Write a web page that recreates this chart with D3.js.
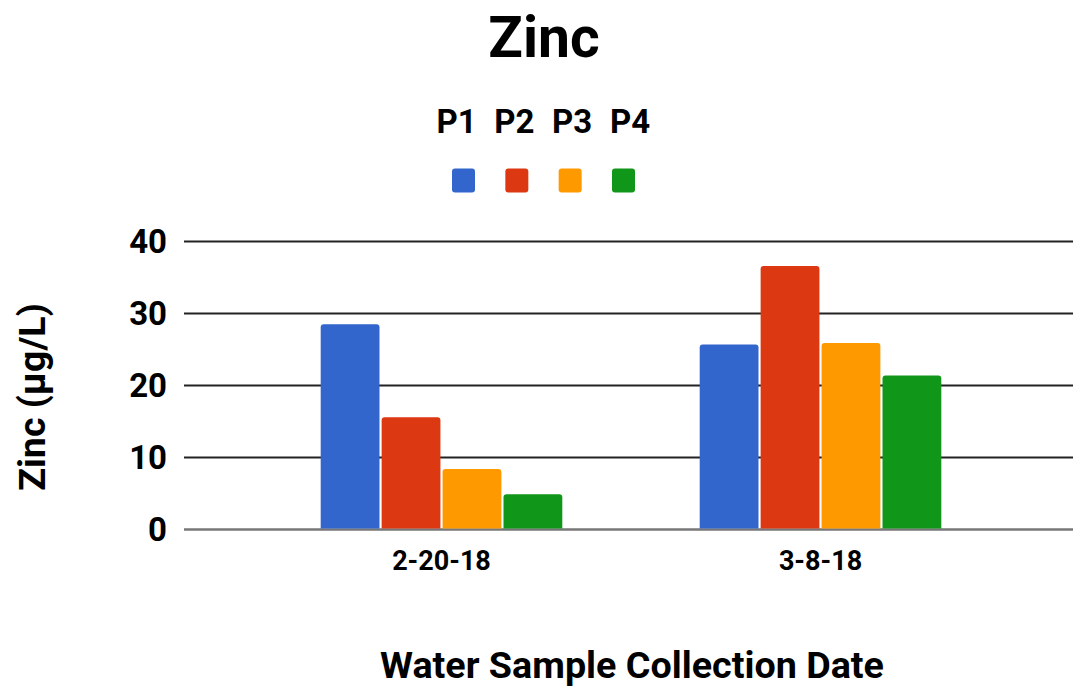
<!DOCTYPE html>
<meta charset="utf-8">
<style>
body { margin: 0; background: #fff; }
svg { display: block; font-family: Roboto, "Noto Sans", sans-serif; font-weight: bold; }
.grid line { stroke: #222; stroke-width: 2px; }
.grid .base { stroke: #777; stroke-width: 2.5px; }
</style>
<svg width="1073" height="692"></svg>
<script src="https://cdn.jsdelivr.net/npm/d3@7"></script>
<script>

var dates = ["2-20-18", "3-8-18"],
    sites = ["P1", "P2", "P3", "P4"],
    colors = ["#3366cc", "#dc3912", "#ff9900", "#109618"],
    yTicks = [0, 10, 20, 30, 40];

// zinc in µg/L, one array per sampling point, one value per date
var p1 = [28.5, 25.7],
    p2 = [15.6, 36.6],
    p3 = [8.4, 25.9],
    p4 = [4.9, 21.4];

var series = [p1, p2, p3, p4];

var svg = d3.select("svg"),
    gridLeft = 184,
    gridRight = 1073;

var x0 = d3.scaleBand()
    .domain(dates)
    .range([252, 1010])
    .paddingInner(0.3625)
    .paddingOuter(0.18125);

var x1 = d3.scaleBand()
    .domain(sites)
    .range([0, x0.bandwidth()])
    .paddingInner(0.035);

var y = d3.scaleLinear()
    .domain([0, 40])
    .range([529.5, 241.5]);

var color = d3.scaleOrdinal(sites, colors);

// title
svg.append("text")
    .attr("x", 544)
    .attr("y", 57)
    .attr("text-anchor", "middle")
    .style("font-size", "57px")
    .text("Zinc");

// legend
var legendX = d3.scalePoint().domain(sites).range([463.5, 623.5]);
var labelX = d3.scalePoint().domain(sites).range([456.5, 630]);

var legend = svg.append("g").attr("class", "legend");

legend.selectAll("text")
    .data(sites)
  .enter().append("text")
    .attr("x", function(d) { return labelX(d); })
    .attr("y", 133)
    .attr("text-anchor", "middle")
    .style("font-size", "33px")
    .text(function(d) { return d; });

legend.selectAll("rect")
    .data(sites)
  .enter().append("rect")
    .attr("x", function(d) { return legendX(d) - 11.5; })
    .attr("y", 168.5)
    .attr("width", 23)
    .attr("height", 24)
    .attr("rx", 3)
    .attr("fill", function(d) { return color(d); });

// gridlines
var grid = svg.append("g").attr("class", "grid");

grid.selectAll("line")
    .data(yTicks)
  .enter().append("line")
    .attr("class", function(d) { return d === 0 ? "base" : null; })
    .attr("x1", gridLeft)
    .attr("x2", gridRight)
    .attr("y1", function(d) { return y(d); })
    .attr("y2", function(d) { return y(d); });

// y tick labels
svg.append("g")
  .selectAll("text")
    .data(yTicks)
  .enter().append("text")
    .attr("x", 167)
    .attr("y", function(d) { return y(d); })
    .attr("dy", "0.36em")
    .attr("text-anchor", "end")
    .style("font-size", "33px")
    .text(function(d) { return d; });

// bars, top corners rounded
function barPath(x, yTop, w, yBase, r) {
  r = Math.min(r, (yBase - yTop) / 2);
  return "M" + x + "," + yBase +
    "V" + (yTop + r) +
    "Q" + x + "," + yTop + " " + (x + r) + "," + yTop +
    "H" + (x + w - r) +
    "Q" + (x + w) + "," + yTop + " " + (x + w) + "," + (yTop + r) +
    "V" + yBase + "Z";
}

var groups = svg.append("g")
  .selectAll("g")
    .data(dates)
  .enter().append("g")
    .attr("transform", function(d) { return "translate(" + x0(d) + ",0)"; });

groups.selectAll("path")
    .data(function(d, i) {
      return sites.map(function(s, j) { return {site: s, value: series[j][i]}; });
    })
  .enter().append("path")
    .attr("fill", function(d) { return color(d.site); })
    .attr("d", function(d) {
      return barPath(x1(d.site), y(d.value), x1.bandwidth(), y(0) - 1, 3);
    });

// x tick labels
svg.append("g")
  .selectAll("text")
    .data(dates)
  .enter().append("text")
    .attr("x", function(d) { return x0(d) + x0.bandwidth() / 2; })
    .attr("y", 570)
    .attr("text-anchor", "middle")
    .style("font-size", "27px")
    .text(function(d) { return d; });

// axis titles
svg.append("text")
    .attr("x", 632)
    .attr("y", 678)
    .attr("text-anchor", "middle")
    .style("font-size", "37.7px")
    .text("Water Sample Collection Date");

svg.append("text")
    .attr("transform", "translate(45,397) rotate(-90)")
    .attr("text-anchor", "middle")
    .style("font-size", "37.5px")
    .text("Zinc (µg/L)");

</script>
